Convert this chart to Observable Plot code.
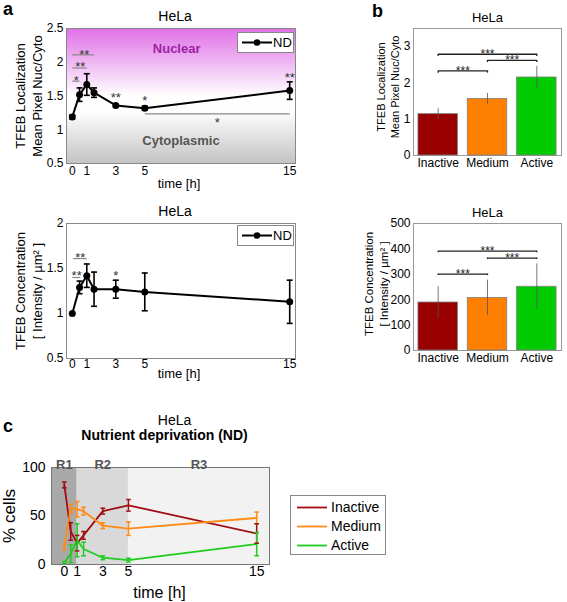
<!DOCTYPE html>
<html><head><meta charset="utf-8">
<script src="https://cdn.jsdelivr.net/npm/d3@7"></script>
<script src="https://cdn.jsdelivr.net/npm/@observablehq/plot@0.6"></script>
<style>
body{margin:0;background:#fff;font-family:"Liberation Sans",Arial,Helvetica,sans-serif;}
#fig{position:relative;width:567px;height:602px;overflow:hidden;background:#fff;}
.pl{position:absolute;}
.plabel{position:absolute;font-weight:bold;font-size:18px;line-height:18px;}
.legend{position:absolute;background:#fff;border:1px solid #888;box-sizing:border-box;}
.lrow{position:absolute;left:0;display:flex;align-items:center;white-space:nowrap;color:#000;}
</style></head><body><div id="fig"></div>
<script>
// ---------------- data ----------------
const timesA = [0, 0.5, 1, 1.5, 3, 5, 15];
const timeTicks = [0, 1, 3, 5, 15];
const locMean = [1.19, 1.52, 1.67, 1.55, 1.36, 1.32, 1.58];
const locErr  = [0.03, 0.10, 0.16, 0.07, 0.02, 0.03, 0.13];
const concMean = [1.00, 1.29, 1.42, 1.27, 1.27, 1.24, 1.13];
const concErr  = [0.00, 0.07, 0.13, 0.19, 0.10, 0.21, 0.24];

const locYTicks = [0.5, 1, 1.5, 2, 2.5];
const concYTicks = [0.5, 1, 1.5, 2];

// significance annotations panel a (top)
const sigLocLines = [
  {x1: 0, x2: 0.5, y: 1.72},
  {x1: 0, x2: 1, y: 1.915},
  {x1: 0, x2: 1.5, y: 2.11},
  {x1: 5, x2: 15, y: 1.234}
];
const sigLocStars = [
  {t: 0.28, v: 1.77, label: "*"},
  {t: 0.55, v: 1.97, label: "**"},
  {t: 0.83, v: 2.16, label: "**"},
  {t: 3, v: 1.51, label: "**"},
  {t: 5, v: 1.48, label: "*"},
  {t: 15, v: 1.82, label: "**"},
  {t: 10, v: 1.15, label: "*"}
];
const zoneLabels = [
  {name: "Nuclear", t: 7.2, v: 2.2},
  {name: "Cytoplasmic", t: 7.5, v: 0.84}
];
// significance annotations panel a (bottom)
const sigConcLines = [
  {x1: 0.05, x2: 1, y: 1.61},
  {x1: 0, x2: 0.55, y: 1.40}
];
const sigConcStars = [
  {t: 0.55, v: 1.65, label: "**"},
  {t: 0.3, v: 1.45, label: "**"},
  {t: 3, v: 1.45, label: "*"}
];

// panel b
const cats = ["Inactive", "Medium", "Active"];
const catColors = ["#990000", "#ff8000", "#00cc00"];
const locBarMean = [1.14, 1.56, 2.15];
const locBarErr = [0.15, 0.15, 0.31];
const concBarMean = [189, 207, 251];
const concBarErr = [62, 70, 90];
const locBarTicks = [0, 1, 2, 3];
const concBarTicks = [0, 100, 200, 300, 400, 500];
const locBrackets = [
  {from: "Inactive", to: "Medium", y: 2.33},
  {from: "Medium", to: "Active", y: 2.62},
  {from: "Inactive", to: "Active", y: 2.79}
];
const concBrackets = [
  {from: "Inactive", to: "Medium", y: 301},
  {from: "Medium", to: "Active", y: 364},
  {from: "Inactive", to: "Active", y: 391}
];

// panel c
const timesC = [0, 0.5, 1, 1.5, 3, 5, 15];
const seriesNames = ["Inactive", "Medium", "Active"];
const seriesColors = ["#a00d12", "#ff8a14", "#1fcc1f"];
const inactiveMean = [82, 34, 22, 30, 55, 61, 32];
const inactiveErr  = [3, 9, 8, 4, 3, 6, 10];
const mediumMean   = [18, 58, 57, 55, 40, 37, 48];
const mediumErr    = [3, 4, 8, 4, 3, 7, 6];
const activeMean   = [2, 11, 25, 16, 7, 4.5, 21];
const activeErr    = [1, 9, 17, 7, 2, 2, 12];
const pctTicks = [0, 50, 100];
const regionNames = ["R1", "R2", "R3"];
const regionStart = [-1, 1, 5];
const regionEnd = [1, 5, 16];
const regionShade = ["#a9a9a9", "#d9d9d9", "#f2f2f2"];

// ---------------- helpers ----------------
const FONT = '"Liberation Sans", Arial, Helvetica, sans-serif';
const fmt = d => String(d);
const fig = document.getElementById("fig");
function place(el, left, top) {
  el.classList.add("pl");
  el.style.left = left + "px";
  el.style.top = top + "px";
  fig.appendChild(el);
}
const capSym = {draw(ctx, size) { const w = Math.sqrt(size / Math.PI); ctx.moveTo(-w, 0); ctx.lineTo(w, 0); }};
function withErr(xs, mean, err, key) {
  return xs.map((x, i) => ({[key]: x, m: mean[i], lo: mean[i] - err[i], hi: mean[i] + err[i]}));
}
function addDefs(svg, id, stops) {
  const ns = "http://www.w3.org/2000/svg";
  const defs = document.createElementNS(ns, "defs");
  const lg = document.createElementNS(ns, "linearGradient");
  lg.setAttribute("id", id);
  lg.setAttribute("x1", "0"); lg.setAttribute("y1", "0");
  lg.setAttribute("x2", "0"); lg.setAttribute("y2", "1");
  for (const [o, c] of stops) {
    const s = document.createElementNS(ns, "stop");
    s.setAttribute("offset", o); s.setAttribute("stop-color", c);
    lg.appendChild(s);
  }
  defs.appendChild(lg);
  svg.insertBefore(defs, svg.firstChild);
}
function panelLabel(txt, left, top) {
  const d = document.createElement("div");
  d.className = "plabel"; d.textContent = txt;
  d.style.left = left + "px"; d.style.top = top + "px";
  fig.appendChild(d);
}
function ndLegend(left, top) {
  const d = document.createElement("div");
  d.className = "legend";
  d.style.left = left + "px"; d.style.top = top + "px";
  d.style.width = "57px"; d.style.height = "21px";
  d.innerHTML = '<svg width="32" height="19" style="position:absolute;left:3px;top:0"><line x1="1" y1="9.5" x2="31" y2="9.5" stroke="#000" stroke-width="2"/><circle cx="16" cy="9.5" r="3.3" fill="#000"/></svg>' +
    '<span style="position:absolute;left:35px;top:2px;font-size:13px;line-height:16px">ND</span>';
  fig.appendChild(d);
}

// ---------------- panel a (top) ----------------
const locData = withErr(timesA, locMean, locErr, "t");
const a1 = Plot.plot({
  width: 305, height: 195, marginLeft: 66, marginRight: 10, marginTop: 28, marginBottom: 32,
  style: {fontFamily: FONT, fontSize: "12px", color: "#000", background: "transparent", overflow: "visible"},
  x: {domain: [-0.4, 15.4], ticks: timeTicks, tickFormat: fmt, tickSize: 0, tickPadding: 3, label: null},
  y: {domain: [0.5, 2.5], ticks: locYTicks, tickFormat: fmt, tickSize: 0, tickPadding: 3, label: null},
  marks: [
    Plot.frame({fill: "url(#gradA)", stroke: "#888"}),
    Plot.text(zoneLabels.slice(0, 1), {x: "t", y: "v", text: "name", fill: "#9b22a3", fontWeight: "bold", fontSize: 13}),
    Plot.text(zoneLabels.slice(1), {x: "t", y: "v", text: "name", fill: "#555", fontWeight: "bold", fontSize: 13}),
    Plot.link(sigLocLines, {x1: "x1", x2: "x2", y1: "y", y2: "y", stroke: "#888", strokeWidth: 1.2}),
    Plot.ruleX(locData, {x: "t", y1: "lo", y2: "hi", stroke: "#000", strokeWidth: 1.6}),
    Plot.dot(locData, {x: "t", y: "lo", symbol: capSym, r: 3, stroke: "#000", fill: "none", strokeWidth: 1.6}),
    Plot.dot(locData, {x: "t", y: "hi", symbol: capSym, r: 3, stroke: "#000", fill: "none", strokeWidth: 1.6}),
    Plot.line(locData, {x: "t", y: "m", stroke: "#000", strokeWidth: 2}),
    Plot.dot(locData, {x: "t", y: "m", r: 3.5, fill: "#000"}),
    Plot.text(sigLocStars, {x: "t", y: "v", text: "label", fill: "#333", fontSize: 13, dy: 3}),
    Plot.text(["HeLa"], {frameAnchor: "top", dy: -8, dx: -6, lineAnchor: "bottom", fontSize: 14, fill: "#000"}),
    Plot.text(["TFEB Localization\nMean Pixel Nuc/Cyto"], {frameAnchor: "left", rotate: -90, dx: -38, textAnchor: "middle", lineAnchor: "middle", lineHeight: 1.3, fontSize: 13, fill: "#000"}),
    Plot.text(["time [h]"], {frameAnchor: "bottom", dy: 20, dx: -2, lineAnchor: "middle", fontSize: 13, fill: "#000"})
  ]
});
addDefs(a1, "gradA", [["0", "#e070e7"], ["0.5", "#ffffff"], ["0.62", "#fdfdfd"], ["1", "#c3c3c3"]]);
place(a1, 0, 0);
ndLegend(237, 32);

// ---------------- panel a (bottom) ----------------
const concData = withErr(timesA, concMean, concErr, "t");
const a2 = Plot.plot({
  width: 305, height: 195, marginLeft: 66, marginRight: 10, marginTop: 28, marginBottom: 32,
  style: {fontFamily: FONT, fontSize: "12px", color: "#000", background: "transparent", overflow: "visible"},
  x: {domain: [-0.4, 15.4], ticks: timeTicks, tickFormat: fmt, tickSize: 0, tickPadding: 1, label: null},
  y: {domain: [0.5, 2], ticks: concYTicks, tickFormat: fmt, tickSize: 0, tickPadding: 3, label: null},
  marks: [
    Plot.frame({fill: "#fff", stroke: "#888"}),
    Plot.link(sigConcLines, {x1: "x1", x2: "x2", y1: "y", y2: "y", stroke: "#888", strokeWidth: 1.2}),
    Plot.ruleX(concData, {x: "t", y1: "lo", y2: "hi", stroke: "#000", strokeWidth: 1.6}),
    Plot.dot(concData.filter(d => d.hi > d.lo), {x: "t", y: "lo", symbol: capSym, r: 3, stroke: "#000", fill: "none", strokeWidth: 1.6}),
    Plot.dot(concData.filter(d => d.hi > d.lo), {x: "t", y: "hi", symbol: capSym, r: 3, stroke: "#000", fill: "none", strokeWidth: 1.6}),
    Plot.line(concData, {x: "t", y: "m", stroke: "#000", strokeWidth: 2}),
    Plot.dot(concData, {x: "t", y: "m", r: 3.5, fill: "#000"}),
    Plot.text(sigConcStars, {x: "t", y: "v", text: "label", fill: "#333", fontSize: 13, dy: 3}),
    Plot.text(["HeLa"], {frameAnchor: "top", dy: -8, dx: -6, lineAnchor: "bottom", fontSize: 14, fill: "#000"}),
    Plot.text(["TFEB Concentration\n[ Intensity / µm² ]"], {frameAnchor: "left", rotate: -90, dx: -38, textAnchor: "middle", lineAnchor: "middle", lineHeight: 1.3, fontSize: 13, fill: "#000"}),
    Plot.text(["time [h]"], {frameAnchor: "bottom", dy: 15, dx: -2, lineAnchor: "middle", fontSize: 13, fill: "#000"})
  ]
});
place(a2, 0, 195);
ndLegend(237, 225);

// ---------------- panel b ----------------
function barPanel(mean, err, ticks, domainMax, brackets, tickLen, ylabel, ylabelDx, ylabelDy, ylabelLH, ylabelSize) {
  const data = cats.map((c, i) => ({cat: c, m: mean[i], lo: mean[i] - err[i], hi: mean[i] + err[i]}));
  const W = 227, ML = 73, MR = 6, PI = 0.2, PO = 0.1;
  const step = (W - ML - MR) / (cats.length - PI + 2 * PO);
  const idx = c => cats.indexOf(c);
  const adj = brackets.filter(b => (idx(b.to) - idx(b.from)) % 2 === 1);
  const wide = brackets.filter(b => (idx(b.to) - idx(b.from)) % 2 === 0).map(b => ({...b, mid: cats[(idx(b.from) + idx(b.to)) / 2]}));
  const ends = brackets.flatMap(b => [{cat: b.from, y: b.y}, {cat: b.to, y: b.y}]);
  return Plot.plot({
    width: W, height: 195, marginLeft: ML, marginRight: MR, marginTop: 28, marginBottom: 40,
    style: {fontFamily: FONT, fontSize: "12px", color: "#000", background: "transparent", overflow: "visible"},
    x: {domain: cats, paddingInner: PI, paddingOuter: PO, round: false, tickSize: 0, tickPadding: 3, label: null},
    y: {domain: [0, domainMax], ticks, tickFormat: fmt, tickSize: 0, tickPadding: 3, label: null},
    color: {domain: cats, range: catColors},
    marks: [
      Plot.frame({fill: "#fff", stroke: "#999"}),
      Plot.barY(data, {x: "cat", y: "m", fill: "cat", stroke: "#808080", strokeWidth: 0.8}),
      Plot.ruleX(data, {x: "cat", y1: "lo", y2: "hi", stroke: "#555", strokeWidth: 0.8}),
      Plot.link(brackets, {x1: "from", x2: "to", y1: "y", y2: "y", stroke: "#222", strokeWidth: 1.3}),
      Plot.ruleX(ends, {x: "cat", y1: "y", y2: d => d.y - tickLen, stroke: "#222", strokeWidth: 1.3}),
      Plot.text(adj, {x: "from", y: "y", text: () => "***", dx: step / 2, dy: 0, fontSize: 12, fill: "#222"}),
      Plot.text(wide, {x: "mid", y: "y", text: () => "***", dy: 0, fontSize: 12, fill: "#222"}),
      Plot.text(["HeLa"], {frameAnchor: "top", dy: -7, lineAnchor: "bottom", fontSize: 13, fill: "#000"}),
      Plot.text([ylabel], {frameAnchor: "left", rotate: -90, dx: ylabelDx, dy: ylabelDy, textAnchor: "middle", lineAnchor: "middle", lineHeight: ylabelLH, fontSize: ylabelSize, fill: "#000"})
    ]
  });
}
const b1 = barPanel(locBarMean, locBarErr, locBarTicks, 3.5, locBrackets, 0.06, "TFEB Localization\nMean Pixel Nuc/Cyto", -26, -5, 1.27, 11);
place(b1, 340, 0);
const b2 = barPanel(concBarMean, concBarErr, concBarTicks, 500, concBrackets, 6, "TFEB Concentration\n[ Intensity / µm² ]", -38, -3, 1.3, 11.5);
place(b2, 340, 195);

// ---------------- panel c ----------------
const cData = [
  ...withErr(timesC, inactiveMean, inactiveErr, "t").map(d => ({...d, s: "Inactive"})),
  ...withErr(timesC, mediumMean, mediumErr, "t").map(d => ({...d, s: "Medium"})),
  ...withErr(timesC, activeMean, activeErr, "t").map(d => ({...d, s: "Active"}))
];
const regions = regionNames.map((n, i) => ({name: n, start: regionStart[i], end: regionEnd[i], mid: (regionStart[i] + regionEnd[i]) / 2}));
const c1 = Plot.plot({
  width: 567, height: 212, marginLeft: 51, marginRight: 298, marginTop: 77, marginBottom: 38,
  style: {fontFamily: FONT, fontSize: "14px", color: "#000", background: "transparent", overflow: "visible"},
  x: {domain: [-1, 16], ticks: timeTicks, tickFormat: fmt, tickSize: 0, tickPadding: 2, label: null},
  y: {domain: [0, 100], ticks: pctTicks, tickFormat: fmt, tickSize: 0, tickPadding: 6, label: null},
  color: {domain: seriesNames, range: seriesColors},
  marks: [
    ...regions.map((r, i) => Plot.rect([r], {x1: "start", x2: "end", fill: regionShade[i]})),
    Plot.frame({stroke: "#777"}),
    Plot.text(regions, {x: "mid", frameAnchor: "top", text: "name", lineAnchor: "bottom", dy: 1, fontWeight: "bold", fontSize: 13, fill: "#555"}),
    Plot.line(cData, {x: "t", y: "m", z: "s", stroke: "s", strokeWidth: 1.8}),
    Plot.ruleX(cData, {x: "t", y1: "lo", y2: "hi", stroke: "s", strokeWidth: 1.5}),
    Plot.dot(cData, {x: "t", y: "lo", symbol: capSym, r: 2.3, stroke: "s", fill: "none", strokeWidth: 1.5}),
    Plot.dot(cData, {x: "t", y: "hi", symbol: capSym, r: 2.3, stroke: "s", fill: "none", strokeWidth: 1.5}),
    Plot.text(["HeLa"], {frameAnchor: "top", dy: -47, dx: 14, lineAnchor: "middle", fontSize: 14, fill: "#000"}),
    Plot.text(["Nutrient deprivation (ND)"], {frameAnchor: "top", dy: -32, dx: 4, lineAnchor: "middle", fontSize: 14, fontWeight: "bold", fill: "#000"}),
    Plot.text(["% cells"], {frameAnchor: "left", rotate: -90, dx: -42, textAnchor: "middle", lineAnchor: "middle", fontSize: 17, fill: "#000"}),
    Plot.text(["time [h]"], {frameAnchor: "bottom", dy: 28, dx: -1, lineAnchor: "middle", fontSize: 16, fill: "#000"})
  ]
});
place(c1, 0, 390);

// legend for panel c
(function () {
  const d = document.createElement("div");
  d.className = "legend";
  d.style.left = "290px"; d.style.top = "495px";
  d.style.width = "96px"; d.style.height = "60px";
  seriesNames.forEach((n, i) => {
    const row = document.createElement("div");
    row.className = "lrow";
    row.style.top = (3 + i * 19) + "px";
    row.style.left = "5px";
    row.style.height = "17px";
    row.innerHTML = '<svg width="32" height="17"><line x1="1" y1="8.5" x2="31" y2="8.5" stroke="' + seriesColors[i] + '" stroke-width="1.8"/></svg>' +
      '<span style="margin-left:3px;font-size:14px;line-height:17px">' + n + '</span>';
    d.appendChild(row);
  });
  fig.appendChild(d);
})();

panelLabel("a", 3, 0);
panelLabel("b", 372, 2);
panelLabel("c", 3, 417);
</script></body></html>
